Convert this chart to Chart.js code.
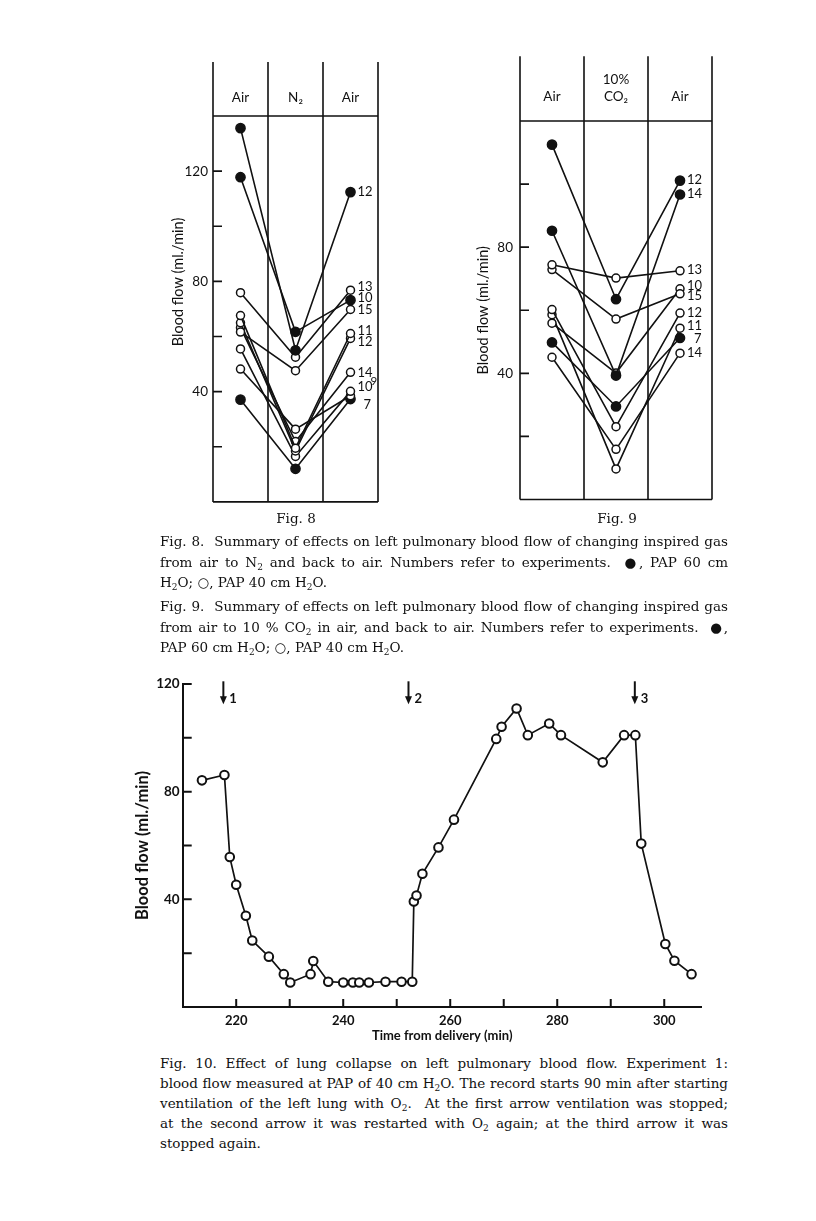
<!DOCTYPE html>
<html>
<head>
<meta charset="utf-8">
<script src="https://cdn.jsdelivr.net/npm/chart.js@4.4.1/dist/chart.umd.min.js"></script>
<style>
  body { margin: 0; background: #fff; width: 816px; height: 1221px; position: relative; overflow: hidden; }
  canvas { position: absolute; }
  .cap { position: absolute; left: 160px; width: 568px; font-family: "DejaVu Serif", serif; font-size: 13.5px; line-height: 20.5px; color: #111; }
  .cap div { text-align: justify; text-align-last: justify; }
  .cap div.last { text-align-last: left; }
  .sb { font-size: 9px; line-height: 0; position: relative; top: 3px; }
  .figno { position: absolute; width: 100px; text-align: center; font-family: "DejaVu Serif", serif; font-size: 13.5px; line-height: 20px; color: #111; }
</style>
</head>
<body>
<canvas id="fig8" width="260" height="475" style="left:140px;top:40px"></canvas>
<canvas id="fig9" width="290" height="475" style="left:440px;top:40px"></canvas>
<canvas id="fig10" width="610" height="385" style="left:120px;top:665px"></canvas>

<div class="figno" style="left:246px;top:508px">Fig. 8</div>
<div class="figno" style="left:567px;top:508px">Fig. 9</div>

<div class="cap" style="top:531px">
  <div>Fig. 8.&nbsp; Summary of effects on left pulmonary blood flow of changing inspired gas</div>
  <div>from air to N<span class="sb">2</span> and back to air. Numbers refer to experiments. &nbsp;●, PAP 60 cm</div>
  <div class="last">H<span class="sb">2</span>O; ○, PAP 40 cm H<span class="sb">2</span>O.</div>
</div>
<div class="cap" style="top:596px">
  <div>Fig. 9.&nbsp; Summary of effects on left pulmonary blood flow of changing inspired gas</div>
  <div>from air to 10 % CO<span class="sb">2</span> in air, and back to air. Numbers refer to experiments. &nbsp;●,</div>
  <div class="last">PAP 60 cm H<span class="sb">2</span>O; ○, PAP 40 cm H<span class="sb">2</span>O.</div>
</div>
<div class="cap" style="top:1053px;line-height:20px">
  <div>Fig. 10. Effect of lung collapse on left pulmonary blood flow. Experiment 1:</div>
  <div>blood flow measured at PAP of 40 cm H<span class="sb">2</span>O. The record starts 90 min after starting</div>
  <div>ventilation of the left lung with O<span class="sb">2</span>. &nbsp;At the first arrow ventilation was stopped;</div>
  <div>at the second arrow it was restarted with O<span class="sb">2</span> again; at the third arrow it was</div>
  <div class="last">stopped again.</div>
</div>

<script>
const FONT = 'Lato, "DejaVu Sans", sans-serif';
const INK = '#111';

// Fig. 8: air -> N2 -> air, one line per experiment
const fig8Phases = ['Air', 'N₂', 'Air'];
const fig8Exp = ['12', '10', '13', '15', '11', '12', '14', '10', '9', '7'];
const fig8Filled = [true, true, false, false, false, false, false, false, false, true];
const fig8Air1 = [135.6, 117.8, 75.9, 61.6, 67.6, 65.0, 63.2, 55.5, 48.2, 37.1];
const fig8N2 = [55.0, 61.7, 52.5, 47.6, 19.5, 18.5, 21.9, 16.5, 26.4, 12.0];
const fig8Air2 = [112.4, 73.2, 76.8, 69.8, 61.1, 59.3, 47.0, 40.1, 38.5, 37.3];
const fig8Ticks = [20, 40, 60, 80, 100, 120];
const fig8TickLabels = [40, 80, 120];

// Fig. 9: air -> 10% CO2 -> air
const fig9Phases = ['Air', '10%\nCO₂', 'Air'];
const fig9Exp = ['12', '14', '13', '15', '10', '7', '12', '11', '14'];
const fig9Filled = [true, true, false, false, false, true, false, false, false];
const fig9Air1 = [112.5, 85.2, 74.4, 72.9, 55.9, 49.8, 60.2, 58.6, 45.1];
const fig9CO2 = [63.5, 39.3, 70.2, 57.2, 40.1, 29.5, 23.1, 9.7, 15.9];
const fig9Air2 = [101.1, 96.7, 72.5, 65.2, 66.8, 51.2, 59.1, 54.3, 46.4];
const fig9Ticks = [20, 40, 60, 80, 100];
const fig9TickLabels = [40, 80];

// Fig. 10: experiment 1, time course
const fig10Time = [213.6, 217.8, 218.8, 220.0, 221.8, 223.0, 226.1, 228.9, 230.1, 233.9, 234.4, 237.2,
  240.0, 241.8, 243.0, 244.8, 247.9, 250.9, 252.9, 253.2, 253.7, 254.8, 257.8, 260.7, 268.6, 269.6,
  272.4, 274.5, 278.5, 280.7, 288.5, 292.5, 294.6, 295.7, 300.2, 301.9, 305.1];
const fig10Flow = [84.2, 86.2, 55.7, 45.4, 33.9, 24.7, 18.7, 12.2, 9.1, 12.2, 17.1, 9.4,
  9.1, 9.1, 9.1, 9.1, 9.4, 9.4, 9.4, 39.2, 41.4, 49.5, 59.3, 69.6, 99.6, 104.1,
  110.9, 101.0, 105.3, 101.0, 90.9, 101.0, 101.0, 60.7, 23.4, 17.2, 12.2];
const fig10Arrows = [217.6, 252.2, 294.5];
const fig10ArrowLabels = ['1', '2', '3'];
const fig10YTicks = [20, 40, 60, 80, 100, 120];
const fig10YLabels = [40, 80, 120];
const fig10XTicks = [220, 230, 240, 250, 260, 270, 280, 290, 300];
const fig10XLabels = [220, 240, 260, 280, 300];

// boxed panel with phase columns, header row and inward ticks
const panelFrame = {
  id: 'panelFrame',
  beforeDatasetsDraw(chart, args, o) {
    const {ctx, scales: {x, y}} = chart;
    const top = y.getPixelForValue(o.frameTop);
    const bottom = y.getPixelForValue(0);
    const head = y.getPixelForValue(o.headLine);
    const l = x.getPixelForValue(0);
    const r = x.getPixelForValue(o.phases.length);
    ctx.save();
    ctx.strokeStyle = INK;
    ctx.lineWidth = 1.6;
    ctx.beginPath();
    for (let i = 0; i <= o.phases.length; i++) {
      const px = x.getPixelForValue(i);
      ctx.moveTo(px, top);
      ctx.lineTo(px, bottom);
    }
    ctx.moveTo(l, head); ctx.lineTo(r, head);
    ctx.moveTo(l, bottom); ctx.lineTo(r, bottom);
    o.ticks.forEach(v => {
      const py = y.getPixelForValue(v);
      ctx.moveTo(l, py); ctx.lineTo(l + 9, py);
    });
    ctx.stroke();
    ctx.fillStyle = INK;
    ctx.font = '13.5px ' + FONT;
    ctx.textAlign = 'center';
    ctx.textBaseline = 'middle';
    o.phases.forEach((name, i) => {
      const lines = name.split('\n');
      lines.forEach((t, j) => {
        const v = o.headText + (lines.length - 1 - j) * o.headGap;
        ctx.fillText(t, x.getPixelForValue(i + 0.5), y.getPixelForValue(v));
      });
    });
    ctx.restore();
  },
  afterDatasetsDraw(chart, args, o) {
    const {ctx} = chart;
    ctx.save();
    ctx.fillStyle = INK;
    ctx.textAlign = 'left';
    ctx.textBaseline = 'middle';
    chart.data.datasets.forEach((ds, i) => {
      const meta = chart.getDatasetMeta(i);
      const pt = meta.data[meta.data.length - 1];
      const off = o.labelOffsets[i] || [0, 0, 13];
      ctx.font = off[2] + 'px ' + FONT;
      ctx.fillText(ds.label, pt.x + 7 + off[0], pt.y + off[1]);
    });
    ctx.restore();
  }
};

function panelSets(exp, filled, cols) {
  return exp.map((e, i) => ({
    label: e,
    data: cols.map((c, k) => ({x: k + 0.5, y: c[i]})),
    borderColor: INK,
    borderWidth: 1.6,
    pointRadius: filled[i] ? 4.6 : 4,
    pointBorderWidth: 1.5,
    pointBorderColor: INK,
    pointBackgroundColor: filled[i] ? INK : '#fff',
    tension: 0
  }));
}

function panelChart(id, sets, cfg) {
  return new Chart(document.getElementById(id), {
    type: 'line',
    data: {datasets: sets},
    plugins: [panelFrame],
    options: {
      responsive: false,
      animation: false,
      devicePixelRatio: 1,
      layout: {padding: cfg.padding},
      plugins: {legend: {display: false}, tooltip: {enabled: false}, panelFrame: cfg.frame},
      scales: {
        x: {type: 'linear', min: 0, max: 3, display: false},
        y: {
          min: 0, max: cfg.yMax,
          afterFit: s => { s.width = cfg.axisWidth; },
          border: {display: false},
          grid: {display: false, drawTicks: false},
          ticks: {
            stepSize: 20, padding: cfg.tickPad, color: INK,
            font: {family: FONT, size: 13.5},
            callback: v => cfg.tickLabels.includes(v) ? String(v) : ''
          },
          title: {
            display: true, text: 'Blood flow (ml./min)', color: INK,
            font: {family: FONT, size: 14.5},
            padding: {top: cfg.titlePad, bottom: 0}
          }
        }
      }
    }
  });
}

panelChart('fig8', panelSets(fig8Exp, fig8Filled, [fig8Air1, fig8N2, fig8Air2]), {
  padding: {top: 22, right: 22, bottom: 13, left: 0},
  yMax: 159.6, axisWidth: 73, tickPad: 5, titlePad: 29.3,
  tickLabels: fig8TickLabels,
  frame: {
    phases: fig8Phases, frameTop: 159.6, headLine: 140, headText: 146.5, headGap: 5.5,
    ticks: fig8Ticks,
    labelOffsets: [[0, 0, 13], [0, -2, 13], [0, -3, 13], [0, 0, 13], [0, -3, 13],
      [0, 3, 13], [0, 0, 13], [0, -5, 13], [13, -14, 11.5], [6, 6, 13]]
  }
});

panelChart('fig9', panelSets(fig9Exp, fig9Filled, [fig9Air1, fig9CO2, fig9Air2]), {
  padding: {top: 81, right: 18, bottom: 15.5, left: 0},
  yMax: 120, axisWidth: 80, tickPad: 7, titlePad: 34.3,
  tickLabels: fig9TickLabels,
  frame: {
    phases: fig9Phases, frameTop: 140.5, headLine: 120, headText: 127.8, headGap: 5.3,
    ticks: fig9Ticks,
    labelOffsets: [[0, -1, 13], [0, -1, 13], [0, -1, 13], [0, 2, 13], [0, -3, 13],
      [7, 1, 13], [0, 0, 13], [0, -2, 13], [0, 0, 13]]
  }
});

// arrows and inward ticks for Fig. 10
const fig10Marks = {
  id: 'fig10Marks',
  afterDraw(chart) {
    const {ctx, scales: {x, y}} = chart;
    const l = x.getPixelForValue(x.min);
    const b = y.getPixelForValue(0);
    ctx.save();
    ctx.strokeStyle = INK;
    ctx.fillStyle = INK;
    ctx.lineWidth = 2;
    ctx.beginPath();
    fig10YTicks.forEach(v => { const py = y.getPixelForValue(v); ctx.moveTo(l, py); ctx.lineTo(l + 9, py); });
    fig10XTicks.forEach(v => { const px = x.getPixelForValue(v); ctx.moveTo(px, b); ctx.lineTo(px, b - 8); });
    ctx.stroke();
    ctx.font = 'bold 13px ' + FONT;
    ctx.textAlign = 'left';
    ctx.textBaseline = 'middle';
    fig10Arrows.forEach((t, i) => {
      const px = x.getPixelForValue(t);
      const top = y.getPixelForValue(121);
      const tip = y.getPixelForValue(112.5);
      ctx.lineWidth = 2;
      ctx.beginPath();
      ctx.moveTo(px, top); ctx.lineTo(px, tip - 6);
      ctx.stroke();
      ctx.beginPath();
      ctx.moveTo(px - 3.5, tip - 8); ctx.lineTo(px + 3.5, tip - 8); ctx.lineTo(px, tip);
      ctx.closePath();
      ctx.fill();
      ctx.fillText(fig10ArrowLabels[i], px + 6, y.getPixelForValue(114.5));
    });
    ctx.restore();
  }
};

new Chart(document.getElementById('fig10'), {
  type: 'line',
  data: {
    datasets: [{
      label: 'Experiment 1',
      data: fig10Time.map((t, i) => ({x: t, y: fig10Flow[i]})),
      borderColor: INK,
      borderWidth: 1.7,
      pointRadius: 4.3,
      pointBorderWidth: 2,
      pointBorderColor: INK,
      pointBackgroundColor: '#fff',
      tension: 0
    }]
  },
  plugins: [fig10Marks],
  options: {
    responsive: false,
    animation: false,
    devicePixelRatio: 1,
    layout: {padding: {top: 19, right: 28.3, bottom: 0, left: 0}},
    plugins: {legend: {display: false}, tooltip: {enabled: false}},
    scales: {
      x: {
        type: 'linear', min: 210, max: 307,
        afterFit: s => { s.height = 43; },
        border: {display: true, color: INK, width: 2},
        grid: {display: false, drawTicks: false},
        ticks: {
          stepSize: 10, autoSkip: false, maxRotation: 0, padding: 6, color: INK,
          font: {family: FONT, size: 13, weight: 'bold'},
          callback: v => fig10XLabels.includes(v) ? String(v) : ''
        },
        title: {
          display: true, text: 'Time from delivery (min)', color: INK,
          font: {family: FONT, size: 13, weight: 'bold'},
          padding: {top: 0, bottom: 6}
        }
      },
      y: {
        min: 0, max: 120,
        afterFit: s => { s.width = 62.7; },
        border: {display: true, color: INK, width: 2},
        grid: {display: false, drawTicks: false},
        ticks: {
          stepSize: 20, padding: 3, color: INK,
          font: {family: FONT, size: 13.5, weight: 'bold'},
          callback: v => fig10YLabels.includes(v) ? String(v) : ''
        },
        title: {
          display: true, text: 'Blood flow (ml./min)', color: INK,
          font: {family: FONT, size: 16.5, weight: 'bold'},
          padding: {top: 13, bottom: 0}
        }
      }
    }
  }
});
</script>
</body>
</html>
